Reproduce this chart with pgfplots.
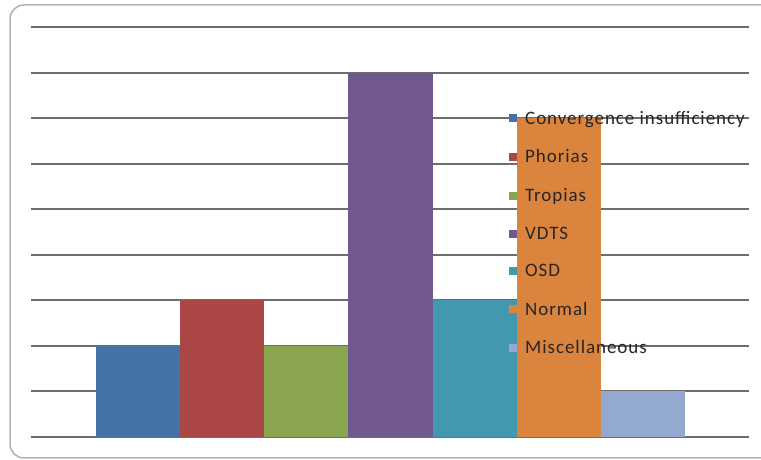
\documentclass[border=0pt]{standalone}
\usepackage{pgfplots}
\pgfplotsset{compat=1.18}
\usepackage{fontspec}
\setmainfont{Carlito}
\newfontfamily\legfont[LetterSpace=5]{Carlito}
\definecolor{c1}{HTML}{4572A7}
\definecolor{c2}{HTML}{AA4643}
\definecolor{c3}{HTML}{89A54E}
\definecolor{c4}{HTML}{71588F}
\definecolor{c5}{HTML}{4198AF}
\definecolor{c6}{HTML}{DB843D}
\definecolor{c7}{HTML}{93A9CF}
\definecolor{gridc}{HTML}{6E6E6E}
\definecolor{txt}{HTML}{262626}
\pgfplotsset{sqlegend/.style={legend image code/.code={\fill[#1] (0bp,-4bp) rectangle (8bp,4bp); \path (0bp,0bp) -- (14bp,0bp);}}}
\begin{document}
\begin{tikzpicture}[x=1bp,y=1bp]
\useasboundingbox (0,0) rectangle (761,460);
\draw[line width=1.5bp, color=black!30, rounded corners=14bp] (10,2) rectangle (775,455);
\begin{axis}[
  at={(31bp,23bp)}, anchor=south west,
  scale only axis, width=718bp, height=410bp,
  xmin=-1.271, xmax=7.259, ymin=0, ymax=9,
  axis line style={draw=none},
  major tick style={draw=none},
  ytick={0,1,...,9}, xtick=\empty, yticklabels={},
  ymajorgrids,
  grid style={line width=2bp, color=gridc},
  ybar, bar width=1, bar shift=0pt,
  legend cell align=left,
  legend style={at={(0.6657,0.800)}, anchor=north west, draw=none, fill=none,
    font=\fontsize{19bp}{21bp}\legfont\color{txt}, row sep=19.9bp,
    inner xsep=0pt, inner ysep=0pt},
  sqlegend,
  clip=false,
]
\addplot[fill=c1, draw=none] coordinates {(0,2)};
\addplot[fill=c2, draw=none] coordinates {(1,3)};
\addplot[fill=c3, draw=none] coordinates {(2,2)};
\addplot[fill=c4, draw=none] coordinates {(3,8)};
\addplot[fill=c5, draw=none] coordinates {(4,3)};
\addplot[fill=c6, draw=none] coordinates {(5,7)};
\addplot[fill=c7, draw=none] coordinates {(6,1)};
\legend{Convergence insufficiency, Phorias, Tropias, VDTS, OSD, Normal, Miscellaneous}
\end{axis}
\end{tikzpicture}
\end{document}
